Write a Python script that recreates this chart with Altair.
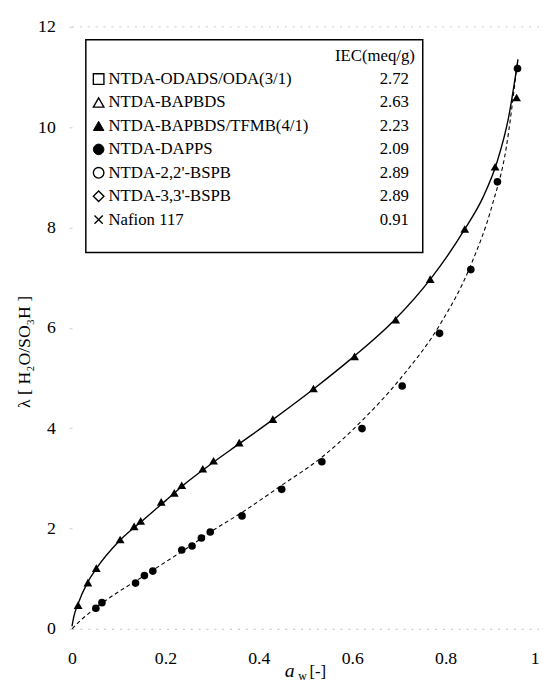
import altair as alt
import pandas as pd

# ---- data ----
# NTDA-BAPBDS/TFMB(4/1) (filled triangles)
tri_aw = [0.013, 0.034, 0.052, 0.103, 0.133, 0.147, 0.191, 0.219, 0.235, 0.280,
          0.303, 0.358, 0.430, 0.517, 0.605, 0.693, 0.767, 0.841, 0.906, 0.952]
tri_lam = [0.47, 0.92, 1.21, 1.78, 2.04, 2.15, 2.53, 2.71, 2.86, 3.19,
           3.35, 3.71, 4.18, 4.79, 5.43, 6.16, 6.97, 7.97, 9.21, 10.59]

# NTDA-DAPPS (filled circles)
cir_aw = [0.051, 0.064, 0.136, 0.155, 0.173, 0.235, 0.257, 0.277, 0.296, 0.364,
          0.449, 0.535, 0.621, 0.707, 0.787, 0.854, 0.911, 0.954]
cir_lam = [0.41, 0.52, 0.91, 1.06, 1.15, 1.57, 1.65, 1.81, 1.93, 2.25,
           2.78, 3.33, 3.99, 4.84, 5.89, 7.16, 8.91, 11.17]

# fitted curves (solid and dashed)
solid_aw = [0.0, 0.004, 0.013, 0.033, 0.052, 0.10, 0.15, 0.20, 0.25, 0.30, 0.36,
            0.43, 0.52, 0.60, 0.69, 0.77, 0.84, 0.88, 0.91, 0.935, 0.955]
solid_lam = [0.05, 0.25, 0.50, 0.92, 1.20, 1.74, 2.15, 2.55, 2.95, 3.30, 3.70,
             4.17, 4.80, 5.40, 6.15, 7.00, 7.95, 8.60, 9.30, 10.20, 11.35]
dash_aw = [0.0, 0.02, 0.051, 0.10, 0.15, 0.20, 0.25, 0.30, 0.364, 0.449, 0.535,
           0.621, 0.707, 0.787, 0.854, 0.90, 0.93, 0.953]
dash_lam = [0.0, 0.18, 0.42, 0.74, 1.03, 1.33, 1.63, 1.95, 2.32, 2.86, 3.42,
            4.15, 5.03, 6.05, 7.25, 8.45, 9.60, 11.25]

# legend
legend_labels = ["NTDA-ODADS/ODA(3/1)", "NTDA-BAPBDS", "NTDA-BAPBDS/TFMB(4/1)",
                 "NTDA-DAPPS", "NTDA-2,2'-BSPB", "NTDA-3,3'-BSPB", "Nafion 117"]
legend_iec = ["2.72", "2.63", "2.23", "2.09", "2.89", "2.89", "0.91"]
legend_shapes = ["square", "triangle-up", "triangle-up", "circle", "circle",
                 "diamond", "M-1,-1L1,1M-1,1L1,-1"]
legend_filled = [False, False, True, True, False, False, False]
iec_header = "IEC(meq/g)"

x_ticks = [0, 0.2, 0.4, 0.6, 0.8, 1.0]
y_ticks = [0, 2, 4, 6, 8, 10, 12]

# ---- layout ----
W, H = 474, 611
FONT = "Liberation Serif"

tri_df = pd.DataFrame({"aw": tri_aw, "lam": tri_lam})
cir_df = pd.DataFrame({"aw": cir_aw, "lam": cir_lam})
solid_df = pd.DataFrame({"aw": solid_aw, "lam": solid_lam})
dash_df = pd.DataFrame({"aw": dash_aw, "lam": dash_lam})
one = pd.DataFrame({"d": [0]})

xenc = alt.X("aw:Q", scale=alt.Scale(domain=[0, 1], nice=False),
             axis=alt.Axis(values=x_ticks, format=".1~f", title=None, grid=False,
                           ticks=False, labelFlush=False, labelPadding=21,
                           labelAlign=alt.ExprRef(expr="datum.value >= 1 ? 'right' : 'center'"),
                           labelFontSize=18, labelFont=FONT, labelColor="black",
                           domainColor="#bbbbbb", domainDash=[2, 6]))
yenc = alt.Y("lam:Q", scale=alt.Scale(domain=[0, 12], nice=False),
             axis=alt.Axis(values=y_ticks, format="d", title=None, grid=False,
                           ticks=True, tickSize=3, tickColor="#cccccc",
                           domain=False, labelPadding=14, labelFontSize=18,
                           labelFont=FONT, labelColor="black"))

solid = alt.Chart(solid_df).mark_line(color="black", strokeWidth=1.4,
                                      interpolate="monotone").encode(x=xenc, y=yenc)
dashed = alt.Chart(dash_df).mark_line(color="black", strokeWidth=1.1,
                                      strokeDash=[4, 3],
                                      interpolate="monotone").encode(x="aw:Q", y="lam:Q")
tris = alt.Chart(tri_df).mark_point(shape="triangle-up", filled=True, color="black",
                                    size=80, opacity=1).encode(x="aw:Q", y="lam:Q")
cirs = alt.Chart(cir_df).mark_point(shape="circle", filled=True, color="black",
                                    size=60, opacity=1).encode(x="aw:Q", y="lam:Q")

top_rule = alt.Chart(one).mark_rule(color="#cccccc", strokeDash=[2, 6]).encode(
    x=alt.value(0), x2=alt.value(W), y=alt.value(0))

layers = [top_rule, solid, dashed, tris, cirs]

# legend box
box = alt.Chart(one).mark_rect(fill="white", stroke="black", strokeWidth=1.5).encode(
    x=alt.value(14), x2=alt.value(356), y=alt.value(13), y2=alt.value(229))
layers.append(box)
layers.append(alt.Chart(one).mark_text(font=FONT, fontSize=17, align="right",
                                       baseline="middle", color="black").encode(
    x=alt.value(348), y=alt.value(30), text=alt.value(iec_header)))

row0, step = 53, 23.8
for i, (lab, iec, shp, fl) in enumerate(zip(legend_labels, legend_iec,
                                             legend_shapes, legend_filled)):
    py = row0 + i * step
    sz = 70 if shp.startswith("M") else 115
    sym = alt.Chart(one).mark_point(shape=shp, filled=False, stroke="black",
                                    fill="black" if fl else "white",
                                    fillOpacity=1, strokeWidth=1.4 if not fl else 1,
                                    size=sz, opacity=1).encode(
        x=alt.value(27), y=alt.value(py))
    txt = alt.Chart(one).mark_text(font=FONT, fontSize=17, align="left",
                                   baseline="middle", color="black").encode(
        x=alt.value(37), y=alt.value(py), text=alt.value(lab))
    val = alt.Chart(one).mark_text(font=FONT, fontSize=17, align="right",
                                   baseline="middle", color="black").encode(
        x=alt.value(342), y=alt.value(py), text=alt.value(iec))
    layers += [sym, txt, val]

# axis titles
ytitle = alt.Chart(one).mark_text(font=FONT, fontSize=18, angle=270, align="center",
                                  baseline="middle", color="black").encode(
    x=alt.value(-48), y=alt.value(330), text=alt.value("λ [ H₂O/SO₃H ]"))
xa = alt.Chart(one).mark_text(font=FONT, fontSize=20, fontStyle="italic",
                              align="center", baseline="middle", color="black").encode(
    x=alt.value(221), y=alt.value(654), text=alt.value("a"))
xw = alt.Chart(one).mark_text(font=FONT, fontSize=12, align="center",
                              baseline="middle", color="black").encode(
    x=alt.value(234), y=alt.value(659), text=alt.value("w"))
xb = alt.Chart(one).mark_text(font=FONT, fontSize=17, align="left",
                              baseline="middle", color="black").encode(
    x=alt.value(241), y=alt.value(655), text=alt.value("[-]"))
layers += [ytitle, xa, xw, xb]

chart = alt.layer(*layers).properties(
    width=W, height=H,
    autosize=alt.AutoSizeParams(type="none"),
    padding={"left": 65, "top": 14, "right": 0, "bottom": 54},
).configure_view(stroke=None)

chart.save("out.html", embed_options={"renderer": "svg", "actions": False})
